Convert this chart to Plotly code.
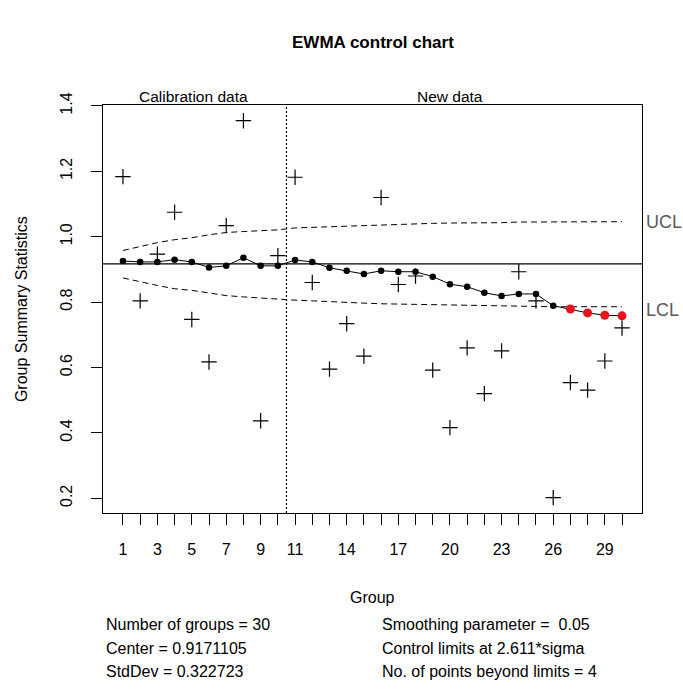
import plotly.graph_objects as go

# ---- data -------------------------------------------------------------
groups = list(range(1, 31))
group_stats = [1.184, 0.804, 0.947, 1.075, 0.747, 0.617, 1.034, 1.355, 0.437, 0.942,
               1.182, 0.860, 0.595, 0.734, 0.635, 1.120, 0.854, 0.880, 0.592, 0.416,
               0.660, 0.520, 0.651, 0.893, 0.804, 0.202, 0.554, 0.531, 0.620, 0.721]
ewma = [0.926, 0.923, 0.923, 0.930, 0.923, 0.906, 0.911, 0.936, 0.911, 0.911,
        0.929, 0.923, 0.905, 0.896, 0.886, 0.896, 0.893, 0.893, 0.878, 0.855,
        0.847, 0.829, 0.819, 0.825, 0.825, 0.789, 0.779, 0.767, 0.760, 0.758]
ucl = [0.958, 0.971, 0.982, 0.991, 0.997, 1.006, 1.013, 1.016, 1.019, 1.021,
       1.027, 1.029, 1.031, 1.033, 1.035, 1.037, 1.038, 1.039, 1.041, 1.042,
       1.042, 1.043, 1.043, 1.045, 1.045, 1.046, 1.046, 1.046, 1.046, 1.046]
lcl = [0.874, 0.862, 0.851, 0.841, 0.836, 0.828, 0.820, 0.816, 0.812, 0.809,
       0.806, 0.804, 0.801, 0.798, 0.797, 0.795, 0.794, 0.793, 0.792, 0.791,
       0.789, 0.788, 0.787, 0.787, 0.786, 0.786, 0.786, 0.786, 0.786, 0.786]
center = 0.9171105
std_dev = 0.322723
smoothing = 0.05
nsigmas = 2.611
calibration_end = 10.5
beyond_idx = [27, 28, 29, 30]

x_tick_labels = [1, 3, 5, 7, 9, 11, 14, 17, 20, 23, 26, 29]
y_ticks = [0.2, 0.4, 0.6, 0.8, 1.0, 1.2, 1.4]

FONT = "Liberation Sans, Arial, sans-serif"
X_RANGE = [-0.16, 31.16]
Y_RANGE = [0.155, 1.403]

fig = go.Figure()

# control limits
fig.add_trace(go.Scatter(x=groups, y=ucl, mode="lines",
                         line=dict(color="black", width=1, dash="6px,4px"),
                         hoverinfo="skip"))
fig.add_trace(go.Scatter(x=groups, y=lcl, mode="lines",
                         line=dict(color="black", width=1, dash="6px,4px"),
                         hoverinfo="skip"))

# raw group statistics
fig.add_trace(go.Scatter(x=groups, y=group_stats, mode="markers",
                         marker=dict(symbol="cross-thin", size=11,
                                     line=dict(color="black", width=1.2))))

# EWMA statistic
fig.add_trace(go.Scatter(x=groups, y=ewma, mode="lines+markers",
                         line=dict(color="black", width=1),
                         marker=dict(color="black", size=6.5)))

# points outside the limits
fig.add_trace(go.Scatter(x=beyond_idx, y=[ewma[g - 1] for g in beyond_idx],
                         mode="markers",
                         marker=dict(color="#e8141c", size=9)))

# center line and calibration/new split
fig.add_shape(type="line", xref="paper", x0=0, x1=1, yref="y", y0=center, y1=center,
              line=dict(color="black", width=1.2))
fig.add_shape(type="line", xref="x", x0=calibration_end, x1=calibration_end,
              yref="paper", y0=0, y1=1,
              line=dict(color="black", width=1.2, dash="2px,2px"))

ann = []
ann.append(dict(text="<b>EWMA control chart</b>", x=0.5, y=1.154, xref="paper", yref="paper",
                showarrow=False, font=dict(size=17, family=FONT, color="black"),
                xanchor="center", yanchor="middle"))
ann.append(dict(text="Calibration data", x=5.1, y=1.022, xref="x", yref="paper",
                showarrow=False, font=dict(size=15.5, family=FONT, color="black"),
                xanchor="center", yanchor="middle"))
ann.append(dict(text="New data", x=20.0, y=1.022, xref="x", yref="paper",
                showarrow=False, font=dict(size=15.5, family=FONT, color="black"),
                xanchor="center", yanchor="middle"))
ann.append(dict(text="UCL", x=1.004, y=ucl[-1], xref="paper", yref="y",
                showarrow=False, font=dict(size=18, family=FONT, color="#5a5a5a"),
                xanchor="left", yanchor="middle"))
ann.append(dict(text="LCL", x=1.004, y=lcl[-1] - 0.01, xref="paper", yref="y",
                showarrow=False, font=dict(size=18, family=FONT, color="#5a5a5a"),
                xanchor="left", yanchor="middle"))
ann.append(dict(text="Group Summary Statistics", x=-0.152, y=0.5, xref="paper", yref="paper",
                showarrow=False, textangle=-90, font=dict(size=16, family=FONT, color="black"),
                xanchor="center", yanchor="middle"))
ann.append(dict(text="Group", x=0.5, y=-0.208, xref="paper", yref="paper",
                showarrow=False, font=dict(size=16, family=FONT, color="black"),
                xanchor="center", yanchor="middle"))

left_lines = [f"Number of groups = {len(groups)}",
              f"Center = {center}",
              f"StdDev = {std_dev}"]
right_lines = [f"Smoothing parameter =  {smoothing}",
               f"Control limits at {nsigmas}*sigma",
               f"No. of points beyond limits = {len(beyond_idx)}"]
line_y = [-0.2745, -0.3309, -0.3897]
for txt, yy in zip(left_lines, line_y):
    ann.append(dict(text=txt, x=0.002, y=yy, xref="paper", yref="paper", showarrow=False,
                    font=dict(size=16, family=FONT, color="black"),
                    xanchor="left", yanchor="middle"))
for txt, yy in zip(right_lines, line_y):
    ann.append(dict(text=txt, x=0.514, y=yy, xref="paper", yref="paper", showarrow=False,
                    font=dict(size=16, family=FONT, color="black"),
                    xanchor="left", yanchor="middle"))

fig.update_layout(
    width=683, height=691,
    margin=dict(l=103, r=41, t=105, b=178),
    paper_bgcolor="white", plot_bgcolor="white",
    showlegend=False,
    annotations=ann,
    font=dict(family=FONT, color="black"),
)
fig.update_xaxes(range=X_RANGE, tickmode="array", tickvals=groups,
                 ticktext=[str(g) if g in x_tick_labels else "" for g in groups],
                 ticks="outside", ticklen=11, tickwidth=1, tickcolor="black",
                 showline=True, linecolor="black", linewidth=1, mirror=True,
                 showgrid=False, zeroline=False,
                 tickfont=dict(size=16, family=FONT, color="black"),
                 ticklabelstandoff=11)
fig.update_yaxes(range=Y_RANGE, tickmode="array", tickvals=y_ticks,
                 ticktext=[f"{v:.1f}" for v in y_ticks], tickangle=-90,
                 ticks="outside", ticklen=11, tickwidth=1, tickcolor="black",
                 showline=True, linecolor="black", linewidth=1, mirror=True,
                 showgrid=False, zeroline=False,
                 tickfont=dict(size=16, family=FONT, color="black"),
                 ticklabelstandoff=13)

fig.write_html("out.html")
